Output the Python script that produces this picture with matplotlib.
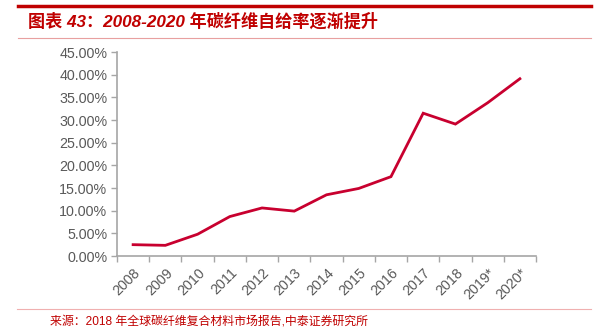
import matplotlib.pyplot as plt
from matplotlib.lines import Line2D
from matplotlib.ticker import FuncFormatter, MultipleLocator, FixedLocator

plt.rcParams['font.family'] = ['Liberation Sans', 'Noto Sans CJK SC', 'DejaVu Sans']

# 碳纤维自给率
years = ['2008', '2009', '2010', '2011', '2012', '2013', '2014',
         '2015', '2016', '2017', '2018', '2019*', '2020*']
self_sufficiency = [2.5, 2.35, 4.8, 8.7, 10.6, 9.9, 13.5,
                    14.9, 17.5, 31.5, 29.1, 33.8, 39.1]

title = '图表 43：2008-2020 年碳纤维自给率逐渐提升'
source = '来源：2018 年全球碳纤维复合材料市场报告,中泰证券研究所'

red = '#C00000'
line_red = '#C8002F'
grey = '#A6A6A6'
text_grey = '#595959'

fig = plt.figure(figsize=(6.06, 3.32), dpi=100)
ax = fig.add_axes([117 / 606, 1 - 256 / 332, 419 / 606, 204 / 332])

x = range(len(years))
ax.plot(x, self_sufficiency, color=line_red, lw=2.0, solid_joinstyle='miter')

ax.set_xlim(-0.5, len(years) - 0.5)
ax.set_ylim(0, 45)
ax.yaxis.set_major_locator(MultipleLocator(5))
ax.yaxis.set_major_formatter(FuncFormatter(lambda v, p: f'{v:.2f}%'))

# 刻度线在类别边界上，标签在类别中心
ax.set_xticks(list(x))
ax.set_xticklabels(years, rotation=45, ha='right', rotation_mode='anchor')
ax.xaxis.set_minor_locator(FixedLocator([i - 0.5 for i in range(len(years) + 1)]))
ax.tick_params(axis='x', which='major', length=0, pad=7)
ax.tick_params(axis='x', which='minor', length=4, color=grey, width=1)
ax.tick_params(axis='y', length=4, color=grey, width=1, pad=3)
ax.tick_params(labelsize=10.3, labelcolor=text_grey)

for side in ['top', 'right']:
    ax.spines[side].set_visible(False)
for side in ['left', 'bottom']:
    ax.spines[side].set_color(grey)
    ax.spines[side].set_linewidth(1.2)

# 标题与来源的装饰线
fig.add_artist(Line2D([18 / 606, 591 / 606], [1 - 6 / 332, 1 - 6 / 332],
                      color=red, lw=2.5, transform=fig.transFigure))
fig.add_artist(Line2D([18 / 606, 591 / 606], [1 - 38 / 332, 1 - 38 / 332],
                      color='#E8A0A0', lw=0.8, transform=fig.transFigure))
fig.add_artist(Line2D([17 / 606, 591 / 606], [1 - 309 / 332, 1 - 309 / 332],
                      color='#F0B0B0', lw=0.8, transform=fig.transFigure))

fig.text(28 / 606, 1 - 21 / 332, title, color=red, fontsize=12.3,
         fontweight='bold', fontstyle='italic', va='center',
         family=['Liberation Sans', 'Noto Sans CJK SC'])
fig.text(50 / 606, 1 - 322 / 332, source, color=red, fontsize=8.6,
         va='center', family=['Liberation Sans', 'Noto Sans CJK SC'])

fig.savefig('out.png', dpi=100)
